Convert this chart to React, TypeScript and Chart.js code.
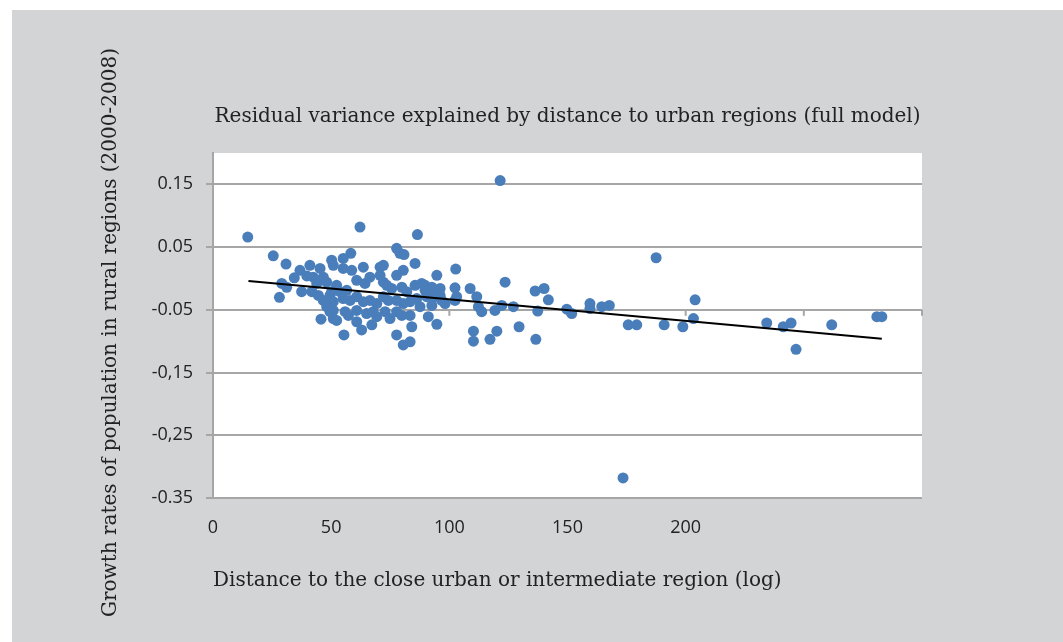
import React, { useEffect, useRef } from "react";
import { Chart, registerables } from "chart.js";

Chart.register(...registerables);

const chartTitle = "Residual variance explained by distance to urban regions (full model)";
const xAxisTitle = "Distance to the close urban or intermediate region (log)";
const yAxisTitle = "Growth rates of population in rural regions (2000-2008)";

const distances = [
  14.7, 25.5, 30.9, 29.1, 31.2, 28.1, 34.4, 36.8, 37.5, 41.0,
  42.4, 45.3, 46.7, 48.1, 50.2, 39.7, 41.8, 44.6, 46.7, 48.1,
  49.5, 50.9, 45.7, 43.9, 50.2, 62.2, 86.5, 58.3, 77.7, 79.1,
  80.8, 50.9, 55.1, 55.1, 58.7, 63.6, 70.7, 72.1, 85.5, 80.5,
  77.7, 66.4, 60.8, 64.3, 72.1, 73.5, 70.7, 75.6, 79.9, 82.0,
  85.5, 88.3, 89.7, 52.3, 53.7, 56.6, 49.5, 50.9, 55.1, 58.0,
  60.8, 63.6, 66.4, 69.3, 72.1, 74.2, 77.7, 80.5, 83.4, 86.2,
  90.4, 50.9, 52.3, 55.9, 57.3, 60.8, 60.8, 62.9, 65.0, 67.8,
  69.3, 67.2, 72.8, 74.9, 77.7, 79.9, 83.4, 84.1, 87.6, 91.1,
  55.4, 77.7, 80.5, 83.4, 102.7, 94.7, 123.6, 89.7, 92.6, 96.1,
  91.1, 93.9, 96.1, 96.8, 102.4, 103.1, 108.8, 111.6, 98.2, 102.4,
  92.6, 112.3, 113.7, 119.3, 122.2, 127.1, 94.7, 110.2, 110.2, 117.2,
  120.1, 129.5, 121.5, 136.3, 140.1, 141.9, 137.4, 136.6, 149.7, 151.8,
  159.5, 159.5, 164.5, 167.7, 175.7, 179.3, 187.5, 190.9, 198.8, 204.0,
  203.3, 173.5, 234.3, 241.3, 244.6, 246.7, 261.8, 280.9, 283.0,
];

const growthRates = [
  0.066, 0.036, 0.023, -0.008, -0.014, -0.030, 0.001, 0.013, -0.021, 0.021,
  0.002, 0.016, 0.002, -0.006, 0.029, 0.004, -0.021, -0.027, -0.035, -0.045,
  -0.053, -0.064, -0.065, -0.008, -0.021, 0.082, 0.070, 0.040, 0.048, 0.040,
  0.038, 0.021, 0.032, 0.016, 0.013, 0.018, 0.018, 0.021, 0.024, 0.013,
  0.005, 0.002, -0.003, -0.008, -0.006, -0.011, 0.005, -0.016, -0.014, -0.021,
  -0.011, -0.008, -0.019, -0.011, -0.021, -0.019, -0.027, -0.037, -0.032, -0.035,
  -0.029, -0.037, -0.035, -0.040, -0.029, -0.035, -0.035, -0.040, -0.037, -0.032,
  -0.029, -0.051, -0.067, -0.053, -0.059, -0.051, -0.069, -0.082, -0.056, -0.053,
  -0.061, -0.074, -0.053, -0.064, -0.053, -0.059, -0.059, -0.077, -0.045, -0.061,
  -0.090, -0.090, -0.106, -0.101, 0.015, 0.005, -0.006, -0.011, -0.014, -0.016,
  -0.027, -0.029, -0.027, -0.035, -0.015, -0.029, -0.016, -0.029, -0.040, -0.035,
  -0.043, -0.045, -0.053, -0.051, -0.043, -0.045, -0.073, -0.084, -0.100, -0.097,
  -0.084, -0.077, 0.156, -0.020, -0.016, -0.034, -0.052, -0.097, -0.049, -0.056,
  -0.040, -0.048, -0.045, -0.043, -0.074, -0.074, 0.033, -0.074, -0.077, -0.034,
  -0.064, -0.318, -0.071, -0.077, -0.071, -0.113, -0.074, -0.061, -0.061,
];

const trendDistances = [15, 283];
const trendRates = [-0.004, -0.096];

const xTickValues = [0, 50, 100, 150, 200, 250, 300];
const xTickLabels = ["0", "50", "100", "150", "200", "", ""];
const yTickValues = [-0.35, -0.25, -0.15, -0.05, 0.05, 0.15];
const yTickLabels = ["-0.35", "-0,25", "-0,15", "-0.05", "0.05", "0.15"];
const xAxisCrossing = -0.05;

const pointColor = "#4a7ebb";
const gridColor = "#a6a6a6";
const textColor = "#222222";
const serif = '"DejaVu Serif", serif';
const sans = '"Open Sans", sans-serif';

const plotDecor = {
  id: "plotDecor",
  beforeDraw(chart: any) {
    const { ctx, chartArea: a } = chart;
    ctx.save();
    ctx.fillStyle = "#ffffff";
    ctx.fillRect(a.left, a.top, a.right - a.left, a.bottom - a.top);
    ctx.restore();
  },
  beforeDatasetsDraw(chart: any) {
    const { ctx } = chart;
    const x = chart.scales.x;
    const y = chart.scales.y;
    const yPix = y.getPixelForValue(xAxisCrossing);
    ctx.save();
    ctx.strokeStyle = gridColor;
    ctx.lineWidth = 2;
    x.ticks.forEach((t: any) => {
      const px = x.getPixelForValue(t.value);
      ctx.beginPath();
      ctx.moveTo(px, yPix);
      ctx.lineTo(px, yPix + 6);
      ctx.stroke();
    });
    ctx.restore();
  },
  afterDraw(chart: any) {
    const { ctx, chartArea: a } = chart;
    ctx.save();
    ctx.translate(98.7, (a.top + a.bottom) / 2 + 7);
    ctx.rotate(-Math.PI / 2);
    ctx.fillStyle = textColor;
    ctx.font = "20px " + serif;
    ctx.textAlign = "center";
    ctx.textBaseline = "middle";
    ctx.fillText(yAxisTitle, 0, 0);
    ctx.restore();
  },
};

export default function App() {
  const canvasRef = useRef<HTMLCanvasElement | null>(null);

  useEffect(() => {
    if (!canvasRef.current) return;
    const chart = new Chart(canvasRef.current, {
      type: "scatter",
      data: {
        datasets: [
          {
            type: "line",
            data: trendDistances.map((x, i) => ({ x, y: trendRates[i] })),
            borderColor: "#000000",
            borderWidth: 2,
            pointRadius: 0,
            fill: false,
            order: 0,
          } as any,
          {
            data: distances.map((x, i) => ({ x, y: growthRates[i] })),
            backgroundColor: pointColor,
            borderColor: pointColor,
            borderWidth: 0,
            pointRadius: 5.5,
            order: 1,
          },
        ],
      },
      options: {
        animation: false,
        responsive: false,
        layout: { padding: { left: 0, right: 141, top: 0, bottom: 0 } },
        plugins: {
          legend: { display: false },
          tooltip: { enabled: false },
          title: {
            display: true,
            text: chartTitle,
            fullSize: false,
            align: "center",
            color: textColor,
            font: { family: serif, size: 20, weight: "normal" },
            padding: { top: 95, bottom: 24 },
          },
        },
        scales: {
          x: {
            type: "linear",
            min: 0,
            max: 300,
            afterBuildTicks: (scale: any) => {
              scale.ticks = xTickValues.map((v) => ({ value: v }));
            },
            afterFit: (scale: any) => {
              scale.height = 144;
            },
            grid: { display: false },
            border: { display: false },
            ticks: {
              padding: 11,
              color: textColor,
              font: { family: sans, size: 18 },
              maxRotation: 0,
              autoSkip: false,
              callback: (v: any) => {
                const i = xTickValues.indexOf(Number(v));
                return i >= 0 ? xTickLabels[i] : "";
              },
            },
            title: {
              display: true,
              text: xAxisTitle,
              align: "start",
              color: textColor,
              font: { family: serif, size: 20, weight: "normal" },
              padding: { top: 0, bottom: 49 },
            },
          },
          y: {
            type: "linear",
            min: -0.35,
            max: 0.2,
            afterBuildTicks: (scale: any) => {
              scale.ticks = yTickValues.map((v) => ({ value: v }));
            },
            afterFit: (scale: any) => {
              scale.width = 201;
            },
            grid: {
              color: gridColor,
              lineWidth: 2,
              tickLength: 7,
              drawTicks: true,
            },
            border: { display: true, color: gridColor, width: 2 },
            ticks: {
              padding: 13,
              color: textColor,
              font: { family: sans, size: 18 },
              autoSkip: false,
              callback: (v: any) => {
                const i = yTickValues.indexOf(Number(v));
                return i >= 0 ? yTickLabels[i] : "";
              },
            },
          },
        },
      },
      plugins: [plotDecor],
    });
    return () => chart.destroy();
  }, []);

  return (
    <div
      style={{
        position: "fixed",
        left: 12,
        top: 10,
        width: 1051,
        height: 632,
        background: "#d3d4d6",
      }}
    >
      <canvas ref={canvasRef} width={1051} height={632} style={{ display: "block" }} />
    </div>
  );
}
